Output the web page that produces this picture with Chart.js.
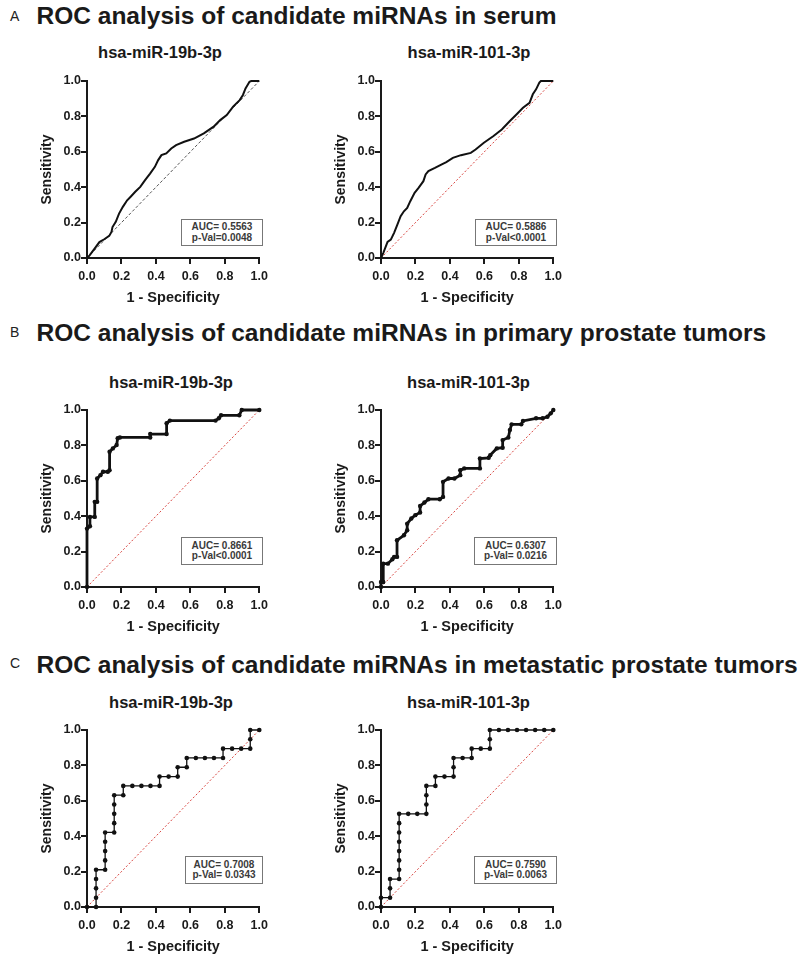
<!DOCTYPE html>
<html><head><meta charset="utf-8">
<script src="https://cdn.jsdelivr.net/npm/chart.js@4.4.1/dist/chart.umd.min.js"></script>
<style>
body{margin:0;background:#fff;width:800px;height:959px;position:relative;overflow:hidden;font-family:'Liberation Sans',Arial,sans-serif;}
.abs{position:absolute;white-space:nowrap;line-height:1;}
.letter{font-size:14px;color:#222;}
.title{font-size:24.5px;font-weight:bold;color:#1a1a1a;}
.sub{font-size:16.5px;font-weight:bold;color:#1a1a1a;}
.box{position:absolute;border:1px solid #777;background:#fff;font-size:10px;font-weight:bold;color:#3a3a3a;box-sizing:border-box;display:flex;flex-direction:column;justify-content:center;align-items:center;line-height:10.5px;white-space:nowrap;}
canvas{position:absolute;}
</style></head>
<body>
<script>
// ---------- DATA ----------
const tickValues = [0, 0.2, 0.4, 0.6, 0.8, 1.0];
const tickLabels = ['0.0', '0.2', '0.4', '0.6', '0.8', '1.0'];
const diagX = [0, 1];
const diagY = [0, 1];

// A: serum
const serum19bX = [0, 0.015, 0.044, 0.072, 0.1, 0.129, 0.142, 0.148, 0.167, 0.186, 0.208, 0.233, 0.252, 0.28, 0.309, 0.337, 0.366, 0.394, 0.413, 0.432, 0.46, 0.489, 0.517, 0.564, 0.621, 0.678, 0.735, 0.773, 0.811, 0.848, 0.886, 0.905, 0.92, 0.943, 0.953, 1];
const serum19bY = [0, 0.015, 0.053, 0.09, 0.106, 0.125, 0.147, 0.175, 0.204, 0.251, 0.289, 0.326, 0.345, 0.374, 0.402, 0.44, 0.477, 0.515, 0.553, 0.581, 0.591, 0.619, 0.638, 0.657, 0.675, 0.704, 0.742, 0.779, 0.808, 0.855, 0.892, 0.921, 0.958, 0.996, 1, 1];
const serum101X = [0, 0.013, 0.028, 0.038, 0.057, 0.076, 0.095, 0.114, 0.133, 0.152, 0.17, 0.195, 0.218, 0.246, 0.259, 0.275, 0.313, 0.35, 0.379, 0.417, 0.464, 0.521, 0.549, 0.597, 0.653, 0.701, 0.748, 0.786, 0.824, 0.862, 0.881, 0.9, 0.919, 0.928, 1];
const serum101Y = [0, 0.028, 0.066, 0.091, 0.104, 0.142, 0.189, 0.236, 0.264, 0.283, 0.321, 0.368, 0.396, 0.434, 0.472, 0.491, 0.509, 0.528, 0.542, 0.566, 0.581, 0.594, 0.613, 0.651, 0.689, 0.726, 0.774, 0.811, 0.849, 0.877, 0.925, 0.953, 0.991, 1, 1];

// B: primary prostate tumors
const primary19bX = [0, 0, 0.017, 0.017, 0.045, 0.045, 0.059, 0.059, 0.078, 0.093, 0.121, 0.131, 0.131, 0.15, 0.172, 0.178, 0.191, 0.367, 0.367, 0.462, 0.462, 0.481, 0.746, 0.765, 0.778, 0.884, 0.898, 1];
const primary19bY = [0, 0.33, 0.343, 0.396, 0.396, 0.481, 0.481, 0.613, 0.632, 0.651, 0.651, 0.66, 0.764, 0.783, 0.802, 0.84, 0.845, 0.845, 0.864, 0.864, 0.925, 0.94, 0.94, 0.953, 0.97, 0.97, 1, 1];
const primary101X = [0, 0, 0.013, 0.013, 0.04, 0.066, 0.076, 0.093, 0.093, 0.133, 0.152, 0.152, 0.176, 0.199, 0.227, 0.227, 0.252, 0.275, 0.341, 0.36, 0.36, 0.392, 0.426, 0.46, 0.46, 0.483, 0.574, 0.574, 0.625, 0.634, 0.672, 0.706, 0.706, 0.739, 0.748, 0.758, 0.814, 0.824, 0.9, 0.938, 0.966, 0.985, 1];
const primary101Y = [0, 0.028, 0.028, 0.132, 0.132, 0.157, 0.17, 0.17, 0.264, 0.292, 0.321, 0.358, 0.387, 0.406, 0.421, 0.458, 0.477, 0.496, 0.496, 0.509, 0.594, 0.613, 0.613, 0.632, 0.66, 0.67, 0.67, 0.726, 0.73, 0.745, 0.783, 0.787, 0.83, 0.845, 0.887, 0.919, 0.919, 0.938, 0.953, 0.953, 0.962, 0.981, 1];

// C: metastatic prostate tumors
const meta19bX = [0, 0.0526, 0.0526, 0.0526, 0.0526, 0.0526, 0.1053, 0.1053, 0.1053, 0.1053, 0.1053, 0.1579, 0.1579, 0.1579, 0.1579, 0.1579, 0.2105, 0.2105, 0.2632, 0.3158, 0.3684, 0.4211, 0.4211, 0.4737, 0.5263, 0.5263, 0.5789, 0.5789, 0.6316, 0.6842, 0.7368, 0.7895, 0.7895, 0.8421, 0.8947, 0.9474, 0.9474, 0.9474, 1];
const meta19bY = [0, 0, 0.0526, 0.1053, 0.1579, 0.2105, 0.2105, 0.2632, 0.3158, 0.3684, 0.4211, 0.4211, 0.4737, 0.5263, 0.5789, 0.6316, 0.6316, 0.6842, 0.6842, 0.6842, 0.6842, 0.6842, 0.7368, 0.7368, 0.7368, 0.7895, 0.7895, 0.8421, 0.8421, 0.8421, 0.8421, 0.8421, 0.8947, 0.8947, 0.8947, 0.8947, 0.9474, 1, 1];
const meta101X = [0, 0, 0.0526, 0.0526, 0.0526, 0.1053, 0.1053, 0.1053, 0.1053, 0.1053, 0.1053, 0.1053, 0.1053, 0.1579, 0.2105, 0.2632, 0.2632, 0.2632, 0.2632, 0.3158, 0.3158, 0.3684, 0.4211, 0.4211, 0.4211, 0.4737, 0.5263, 0.5263, 0.5789, 0.6316, 0.6316, 0.6316, 0.6842, 0.7368, 0.7895, 0.8421, 0.8947, 0.9474, 1];
const meta101Y = [0, 0.0526, 0.0526, 0.1053, 0.1579, 0.1579, 0.2105, 0.2632, 0.3158, 0.3684, 0.4211, 0.4737, 0.5263, 0.5263, 0.5263, 0.5263, 0.5789, 0.6316, 0.6842, 0.6842, 0.7368, 0.7368, 0.7368, 0.7895, 0.8421, 0.8421, 0.8421, 0.8947, 0.8947, 0.8947, 0.9474, 1, 1, 1, 1, 1, 1, 1, 1];

const sectionLetters = ['A', 'B', 'C'];
const sectionTitles = [
  'ROC analysis of candidate miRNAs in serum',
  'ROC analysis of candidate miRNAs in primary prostate tumors',
  'ROC analysis of candidate miRNAs in metastatic prostate tumors'
];
const mirnaNames = ['hsa-miR-19b-3p', 'hsa-miR-101-3p'];
const aucTexts = ['AUC= 0.5563', 'AUC= 0.5886', 'AUC= 0.8661', 'AUC= 0.6307', 'AUC= 0.7008', 'AUC= 0.7590'];
const pTexts = ['p-Val=0.0048', 'p-Val<0.0001', 'p-Val<0.0001', 'p-Val= 0.0216', 'p-Val= 0.0343', 'p-Val= 0.0063'];
const xAxisTitle = '1 - Specificity';
const yAxisTitle = 'Sensitivity';

// ---------- LAYOUT ----------
const FONT = "'Liberation Sans', Arial, sans-serif";
const sectionTop = [4.3, 321.3, 653.3];
const letterTop = [8.9, 324.8, 656.2];
const subTop = [44, 374, 694];
const subCenter = [[160, 469], [171, 468.5], [171, 468.5]];
const plotTop = [81, 410, 730];
const plotLeft = [87, 381];
const boxes = [
  [181, 219, 82, 27], [475, 219, 82, 27],
  [181, 537, 82, 28], [474, 537, 83, 28],
  [185, 856, 78, 28], [474, 856, 83, 28]
];

function addDiv(cls, text, left, top, extra) {
  const d = document.createElement('div');
  d.className = 'abs ' + cls;
  d.textContent = text;
  d.style.left = left + 'px';
  d.style.top = top + 'px';
  if (extra) Object.assign(d.style, extra);
  document.body.appendChild(d);
  return d;
}

for (let s = 0; s < 3; s++) {
  addDiv('letter', sectionLetters[s], 10, letterTop[s]);
  addDiv('title', sectionTitles[s], 36.5, sectionTop[s]);
  for (let k = 0; k < 2; k++) {
    addDiv('sub', mirnaNames[k], subCenter[s][k], subTop[s], {transform: 'translateX(-50%)'});
  }
}

const datasets = [
  [serum19bX, serum19bY], [serum101X, serum101Y],
  [primary19bX, primary19bY], [primary101X, primary101Y],
  [meta19bX, meta19bY], [meta101X, meta101Y]
];

function toPts(xs, ys) { return xs.map((x, i) => ({x: x, y: ys[i]})); }

const W = 248, H = 240, PADL = 62, PADT = 10;

for (let idx = 0; idx < 6; idx++) {
  const row = Math.floor(idx / 2), col = idx % 2;
  const c = document.createElement('canvas');
  c.width = W; c.height = H;
  c.style.width = W + 'px'; c.style.height = H + 'px';
  c.style.left = (plotLeft[col] - PADL) + 'px';
  c.style.top = (plotTop[row] - PADT) + 'px';
  document.body.appendChild(c);

  const isA = row === 0;
  const isB = row === 1;
  const diagColor = (idx === 0) ? '#555555' : '#d8443f';
  const diagDash = (idx === 0) ? [3, 2] : [2, 2];

  const axisCommon = {
    type: 'linear', min: 0, max: 1,
    border: {display: true, width: 2, color: '#1a1a1a'},
    grid: {display: true, drawOnChartArea: false, drawTicks: true, tickLength: 6, lineWidth: 2, color: '#1a1a1a'},
    afterBuildTicks: (s) => { s.ticks = tickValues.map(v => ({value: v})); },
  };

  new Chart(c, {
    type: 'scatter',
    data: {
      datasets: [
        {
          data: toPts(diagX, diagY), showLine: true, borderColor: diagColor, borderWidth: 1,
          borderDash: diagDash, pointRadius: 0, clip: 10, order: 2
        },
        {
          data: toPts(datasets[idx][0], datasets[idx][1]), showLine: true, borderColor: '#111', backgroundColor: '#111',
          borderWidth: isA ? 2 : (isB ? 2.8 : 1.3),
          pointRadius: isA ? 0 : (isB ? 2.2 : 2.3),
          pointBorderWidth: 0, tension: 0, clip: 10, order: 1
        }
      ]
    },
    options: {
      responsive: false, animation: false, devicePixelRatio: 1,
      layout: {padding: {left: 0, top: PADT, right: W - PADL - 176, bottom: 0}},
      plugins: {legend: {display: false}, tooltip: {enabled: false}},
      scales: {
        x: Object.assign({}, axisCommon, {
          position: 'bottom',
          afterFit: (s) => { s.height = H - PADT - 177; },
          ticks: {padding: 5, color: '#1a1a1a', font: {family: FONT, size: 12.5, weight: 'bold'},
                  callback: (v, i) => tickLabels[i], maxRotation: 0, autoSkip: false},
          title: {display: true, text: xAxisTitle, color: '#1a1a1a', font: {family: FONT, size: 14.5, weight: 'bold'},
                  padding: {top: 0, bottom: 4.3}}
        }),
        y: Object.assign({}, axisCommon, {
          position: 'left',
          afterFit: (s) => { s.width = PADL; },
          ticks: {padding: 0, color: '#1a1a1a', font: {family: FONT, size: 12.5, weight: 'bold'},
                  callback: (v, i) => tickLabels[i], autoSkip: false},
          title: {display: true, text: yAxisTitle, color: '#1a1a1a', font: {family: FONT, size: 14, weight: 'bold'},
                  padding: {top: 14.1, bottom: 0}}
        })
      }
    }
  });
}

boxes.forEach((b, i) => {
  const d = document.createElement('div');
  d.className = 'box';
  d.style.left = b[0] + 'px'; d.style.top = b[1] + 'px';
  d.style.width = b[2] + 'px'; d.style.height = b[3] + 'px';
  const l1 = document.createElement('div'); l1.textContent = aucTexts[i];
  const l2 = document.createElement('div'); l2.textContent = pTexts[i];
  d.appendChild(l1); d.appendChild(l2);
  document.body.appendChild(d);
});
</script>
</body></html>
